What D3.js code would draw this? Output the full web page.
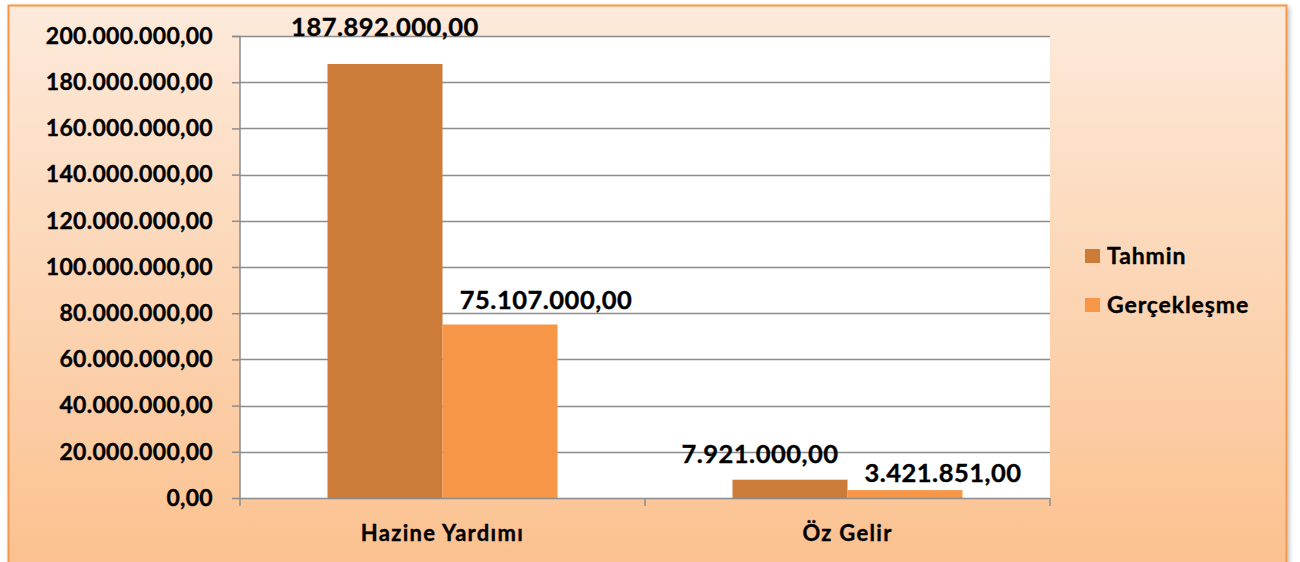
<!DOCTYPE html>
<html>
<head>
<meta charset="utf-8">
<script src="https://cdn.jsdelivr.net/npm/d3@7"></script>
<style>
  html, body { margin: 0; padding: 0; background: #ffffff; }
  svg { display: block; }
  text { font-family: Lato, "Open Sans", sans-serif; font-weight: bold; fill: #000; stroke: #000; stroke-width: 0.35px; }
</style>
</head>
<body>
<svg id="chart" width="1300" height="562"></svg>
<script>
// ---- data ----
const categories = ["Hazine Yardımı", "Öz Gelir"];
const seriesNames = ["Tahmin", "Gerçekleşme"];
const tahmin = [187892000, 7921000];
const gerceklesme = [75107000, 3421851];
const yTicks = [0, 20000000, 40000000, 60000000, 80000000, 100000000, 120000000, 140000000, 160000000, 180000000, 200000000];

// ---- styling / layout ----
const colors = ["#CC7B38", "#F79646"];
// manual label nudges (dx from bar centre, gap of baseline above bar top), per [category][series]
const labelNudge = [[[0, 28], [46, 15.5]], [[-30, 17], [38, 8]]];

const tr = d3.formatLocale({ decimal: ",", thousands: ".", grouping: [3], currency: ["", ""] });
const fmt = tr.format(",.2f");

const svg = d3.select("#chart");
const defs = svg.append("defs");
const grad = defs.append("linearGradient").attr("id", "bg").attr("x1", 0).attr("y1", 0).attr("x2", 0).attr("y2", 1);
grad.append("stop").attr("offset", "0%").attr("stop-color", "#FDEADB");
grad.append("stop").attr("offset", "100%").attr("stop-color", "#FBC08D");
const shadow = defs.append("filter").attr("id", "sh").attr("x", "-5%").attr("y", "-5%").attr("width", "110%").attr("height", "110%");
shadow.append("feDropShadow").attr("dx", 2).attr("dy", 2).attr("stdDeviation", 2).attr("flood-color", "#000").attr("flood-opacity", 0.25);

// chart frame
svg.append("rect").attr("x", 8.5).attr("y", 5.5).attr("width", 1278).attr("height", 575)
  .attr("fill", "url(#bg)").attr("stroke", "#F79646").attr("stroke-width", 2).attr("filter", "url(#sh)");

const plot = { left: 240, right: 1050, top: 36, bottom: 498 };

const x0 = d3.scaleBand().domain(categories).range([plot.left, plot.right]).paddingInner(0).paddingOuter(0);
const x1 = d3.scaleBand().domain(seriesNames).range([0, x0.bandwidth()]).paddingInner(0).paddingOuter(0.761);
const y = d3.scaleLinear().domain([0, 200000000]).range([plot.bottom, plot.top]);

// plot area
svg.append("rect").attr("x", plot.left).attr("y", plot.top)
  .attr("width", plot.right - plot.left).attr("height", plot.bottom - plot.top).attr("fill", "#ffffff");

// gridlines
svg.append("g").selectAll("line").data(yTicks.filter(d => d > 0)).join("line")
  .attr("x1", plot.left).attr("x2", plot.right)
  .attr("y1", d => Math.round(y(d)) + 0.5).attr("y2", d => Math.round(y(d)) + 0.5)
  .attr("stroke", "#8C8C8C").attr("stroke-width", 1.5);

// bars
const rows = categories.map((c, i) => ({ cat: c, i, vals: [tahmin[i], gerceklesme[i]] }));
const gCat = svg.append("g").selectAll("g").data(rows).join("g")
  .attr("transform", d => `translate(${x0(d.cat)},0)`);
gCat.selectAll("rect").data(d => d.vals.map((v, j) => ({ v, j, s: seriesNames[j] }))).join("rect")
  .attr("x", d => x1(d.s)).attr("width", x1.bandwidth())
  .attr("y", d => y(d.v)).attr("height", d => y(0) - y(d.v))
  .attr("fill", d => colors[d.j]);

// y axis
const yAxis = d3.axisLeft(y).tickValues(yTicks).tickFormat(fmt).tickSize(8).tickPadding(19);
const ga = svg.append("g").attr("transform", `translate(${plot.left},0)`).call(yAxis);
ga.select(".domain").attr("stroke", "#8C8C8C").attr("stroke-width", 1.5).attr("d", `M-8,${plot.top + 0.5}H0V${plot.bottom}`);
ga.selectAll(".tick line").attr("stroke", "#8C8C8C").attr("stroke-width", 1.5);
ga.selectAll(".tick text").attr("font-size", 23).attr("letter-spacing", 0.3)
  .attr("font-family", "Lato, 'Open Sans', sans-serif").attr("font-weight", "bold").attr("fill", "#000");

// x axis
const xAxis = d3.axisBottom(x0).tickSize(0).tickPadding(0);
const gx = svg.append("g").attr("transform", `translate(0,${plot.bottom})`).call(xAxis);
gx.select(".domain").attr("stroke", "#8C8C8C").attr("stroke-width", 1.5).attr("d", `M${plot.left},0.5H${plot.right}`);
gx.selectAll(".tick text").attr("font-size", 22).attr("letter-spacing", 1.3).attr("dy", null).attr("y", 43)
  .attr("font-family", "Lato, 'Open Sans', sans-serif").attr("font-weight", "bold").attr("fill", "#000");
// category separators ticks
const sepTicks = categories.map(c => x0(c)).concat([plot.right]);
gx.selectAll("line.sep").data(sepTicks).join("line").attr("class", "sep")
  .attr("x1", d => d).attr("x2", d => d).attr("y1", 0).attr("y2", 8)
  .attr("stroke", "#8C8C8C").attr("stroke-width", 1.5);

// data labels
gCat.selectAll("text.lbl").data(d => d.vals.map((v, j) => ({ v, j, s: seriesNames[j], i: d.i }))).join("text")
  .attr("class", "lbl")
  .attr("x", d => x1(d.s) + x1.bandwidth() / 2 + labelNudge[d.i][d.j][0])
  .attr("y", d => y(d.v) - labelNudge[d.i][d.j][1])
  .attr("text-anchor", "middle").attr("font-size", 25.5).attr("letter-spacing", 0.5)
  .text(d => fmt(d.v));

// legend
const lg = svg.append("g").selectAll("g").data(seriesNames).join("g")
  .attr("transform", (d, j) => `translate(1085,${249 + j * 49})`);
lg.append("rect").attr("width", 15).attr("height", 14).attr("fill", (d, j) => colors[j]);
lg.append("text").attr("x", 22).attr("y", 15).attr("font-size", 23).attr("letter-spacing", 0.9).text(d => d);
</script>
</body>
</html>
